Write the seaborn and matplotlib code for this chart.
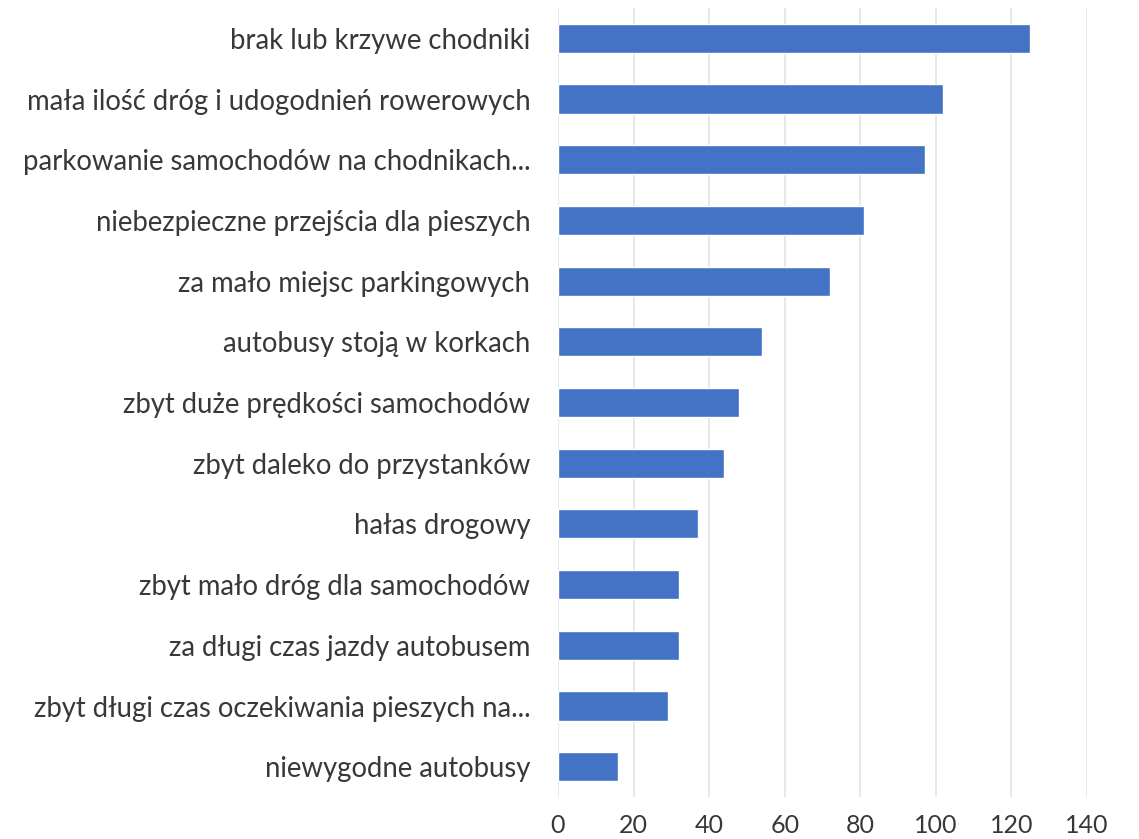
import matplotlib
matplotlib.use("Agg")
import matplotlib.pyplot as plt
import seaborn as sns
import pandas as pd

categories = [
    "brak lub krzywe chodniki",
    "mała ilość dróg i udogodnień rowerowych",
    "parkowanie samochodów na chodnikach...",
    "niebezpieczne przejścia dla pieszych",
    "za mało miejsc parkingowych",
    "autobusy stoją w korkach",
    "zbyt duże prędkości samochodów",
    "zbyt daleko do przystanków",
    "hałas drogowy",
    "zbyt mało dróg dla samochodów",
    "za długi czas jazdy autobusem",
    "zbyt długi czas oczekiwania pieszych na...",
    "niewygodne autobusy",
]
values = [125, 102, 97, 81, 72, 54, 48, 44, 37, 32, 32, 29, 16]
xticks = [0, 20, 40, 60, 80, 100, 120, 140]

sns.set_theme(style="white")
plt.rcParams['font.family'] = ['Lato', 'DejaVu Sans']

df = pd.DataFrame({"cat": categories, "val": values})

fig = plt.figure(figsize=(11.39, 8.39), dpi=100)
ax = fig.add_axes([0.4899, 0.05, 0.4645, 0.9405])
sns.barplot(data=df, x="val", y="cat", color="#4472C4", width=0.48,
            saturation=1, ax=ax, zorder=3)
ax.set_xlim(0, 140)
ax.set_xticks(xticks)
ax.set_xticklabels([str(t) for t in xticks])
ax.set_xlabel("")
ax.set_ylabel("")
ax.grid(axis="x", color="#e4e4e4", linewidth=1.2, zorder=0)
ax.grid(axis="y", visible=False)
for s in ax.spines.values():
    s.set_visible(False)
ax.tick_params(axis="y", length=0, pad=20, labelsize=19.8, labelcolor="#383838")
ax.tick_params(axis="x", length=0, pad=12, labelsize=18, labelcolor="#383838")

fig.savefig("out.png", dpi=100)
